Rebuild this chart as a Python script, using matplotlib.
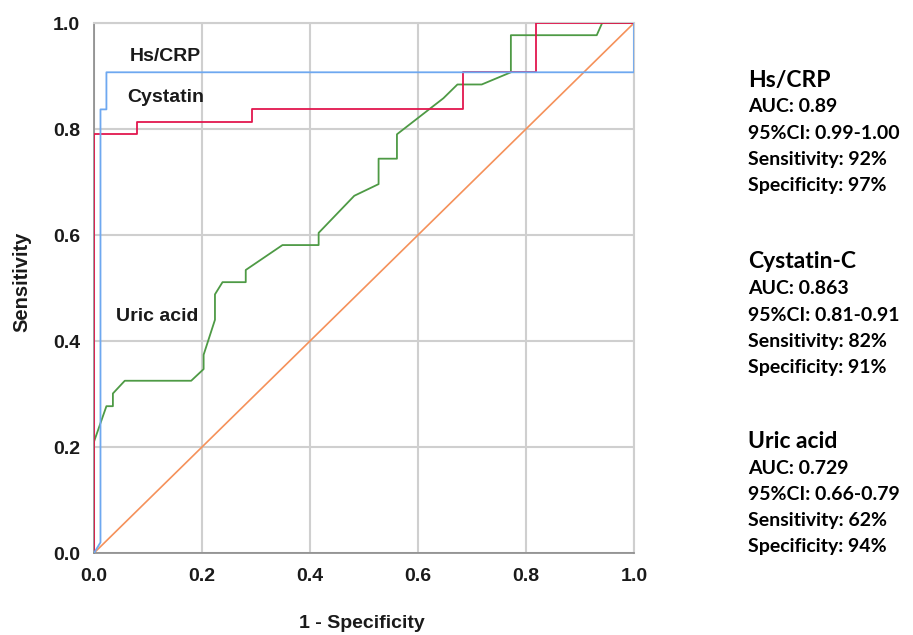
import matplotlib
matplotlib.use("Agg")
import matplotlib.pyplot as plt

# ROC data (1 - specificity, sensitivity)
hs_fpr = [0.0, 0.012, 0.012, 0.023, 0.023, 1.0, 1.0]
hs_tpr = [0.0, 0.02, 0.837, 0.837, 0.907, 0.907, 1.0]

cys_fpr = [0.0, 0.0, 0.079, 0.079, 0.292, 0.292, 0.684, 0.684, 0.819, 0.819, 1.0]
cys_tpr = [0.0, 0.79, 0.79, 0.814, 0.814, 0.837, 0.837, 0.907, 0.907, 1.0, 1.0]

uric_fpr = [0.0, 0.0, 0.023, 0.035, 0.035, 0.057, 0.18, 0.203, 0.203, 0.224, 0.224,
            0.238, 0.281, 0.281, 0.349, 0.416, 0.416, 0.482, 0.527, 0.527, 0.561,
            0.561, 0.647, 0.673, 0.718, 0.772, 0.772, 0.931, 0.941, 1.0]
uric_tpr = [0.0, 0.21, 0.277, 0.277, 0.301, 0.325, 0.325, 0.347, 0.374, 0.44, 0.488,
            0.511, 0.511, 0.534, 0.581, 0.581, 0.604, 0.674, 0.696, 0.744, 0.744,
            0.79, 0.858, 0.884, 0.884, 0.907, 0.977, 0.977, 1.0, 1.0]

ref_x = [0.0, 1.0]
ref_y = [0.0, 1.0]

ticks = [0.0, 0.2, 0.4, 0.6, 0.8, 1.0]
tick_labels = ["0.0", "0.2", "0.4", "0.6", "0.8", "1.0"]

curve_labels = ["Hs/CRP", "Cystatin", "Uric acid"]

stats_blocks = [
    ["Hs/CRP", "AUC: 0.89", "95%CI: 0.99-1.00", "Sensitivity: 92%", "Specificity: 97%"],
    ["Cystatin-C", "AUC: 0.863", "95%CI: 0.81-0.91", "Sensitivity: 82%", "Specificity: 91%"],
    ["Uric acid", "AUC: 0.729", "95%CI: 0.66-0.79", "Sensitivity: 62%", "Specificity: 94%"],
]

fig = plt.figure(figsize=(9.13, 6.35), dpi=100)
ax = fig.add_axes([94 / 913, 1 - 553 / 635, 540 / 913, 530 / 635])

ax.plot(ref_x, ref_y, color="#f5915a", lw=1.2, zorder=2)
ax.plot(uric_fpr, uric_tpr, color="#4e9a45", lw=1.3, zorder=3)
ax.plot(cys_fpr, cys_tpr, color="#e2174e", lw=1.3, zorder=4)
ax.plot(hs_fpr, hs_tpr, color="#6ea8f0", lw=1.3, zorder=5)

ax.set_xlim(0, 1)
ax.set_ylim(0, 1)
ax.set_xticks(ticks)
ax.set_yticks(ticks)
ax.set_xticklabels(tick_labels)
ax.set_yticklabels(tick_labels)
ax.grid(True, color="#cfcfcf", lw=1.5, zorder=0)
ax.set_axisbelow(True)
for side in ["top", "right"]:
    ax.spines[side].set_color("#cfcfcf")
    ax.spines[side].set_linewidth(1.5)
for side in ["left", "bottom"]:
    ax.spines[side].set_color("#8a8a8a")
    ax.spines[side].set_linewidth(1.2)

fnt = dict(family="Liberation Sans", weight="bold")
ax.tick_params(axis="x", length=0, pad=11, labelsize=14)
ax.tick_params(axis="y", length=0, pad=10, labelsize=14)
for lab in ax.get_xticklabels() + ax.get_yticklabels():
    lab.set_fontfamily("Liberation Sans")
    lab.set_fontweight("bold")
    lab.set_color("#1a1a1a")

fig.text(362 / 913, 1 - 624 / 635, "1 - Specificity", ha="center", va="center",
         fontsize=14, color="#1a1a1a", **fnt)
fig.text(22 / 913, 1 - 282 / 635, "Sensitivity", ha="center", va="center",
         rotation=90, fontsize=14.5, color="#1a1a1a", **fnt)

# curve labels
ax.text(0.066, 0.936, curve_labels[0], ha="left", va="center", fontsize=14, color="#1a1a1a", **fnt)
ax.text(0.061, 0.860, curve_labels[1], ha="left", va="center", fontsize=14, color="#1a1a1a", **fnt)
ax.text(0.041, 0.447, curve_labels[2], ha="left", va="center", fontsize=14, color="#1a1a1a", **fnt)

# stats text on the right
block_tops = [80, 262, 441]
for block, top in zip(stats_blocks, block_tops):
    for i, line in enumerate(block):
        y = top + (0 if i == 0 else 27 + (i - 1) * 26.2)
        fig.text(748 / 913, 1 - y / 635, line, ha="left", va="center",
                 fontsize=16.5 if i == 0 else 14, family="Lato", weight="bold",
                 color="#000000")

fig.savefig("out.png", dpi=100)
